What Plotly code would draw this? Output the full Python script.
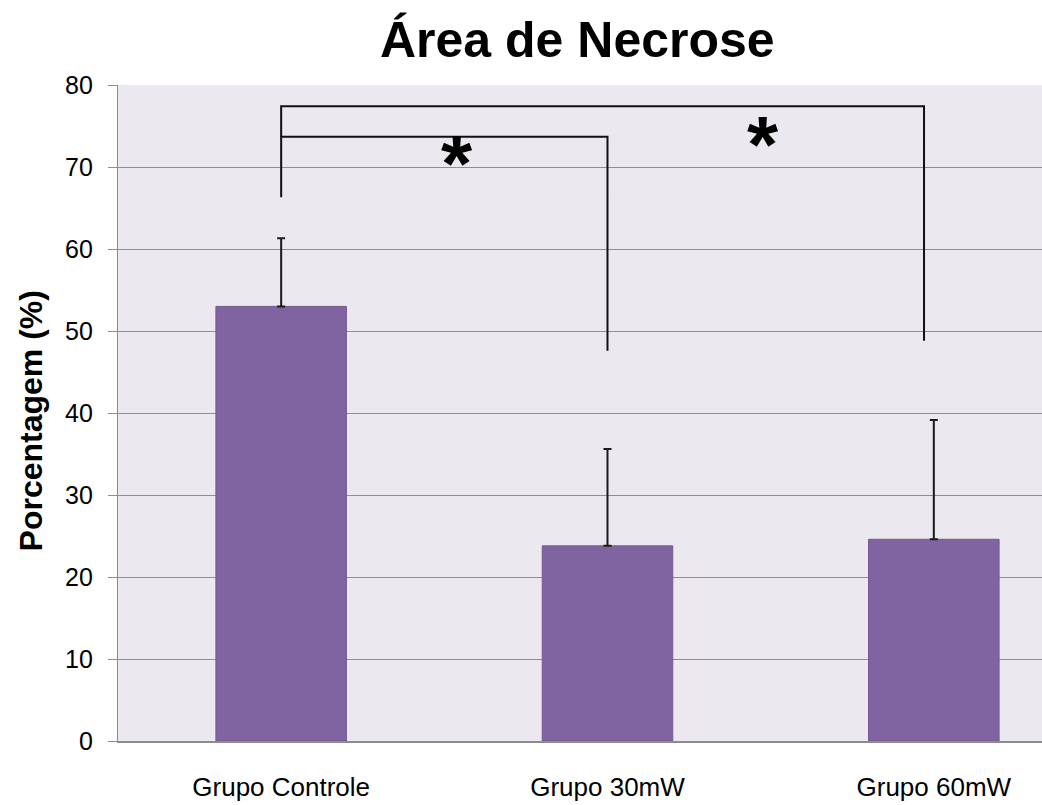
import plotly.graph_objects as go

# Necrosis area per group (mean and upper standard deviation)
groups = ["Grupo Controle", "Grupo 30mW", "Grupo 60mW"]
means = [53.0, 23.8, 24.6]
sd_plus = [8.3, 11.8, 14.55]

# Significance brackets: x positions (category index) and heights (%)
bracket1_x = [0, 0, 1.0, 1.0]
bracket1_y = [66.3, 73.7, 73.7, 47.6]
bracket2_x = [0, 0, 1.97, 1.97]
bracket2_y = [73.7, 77.4, 77.4, 48.8]

# Asterisk markers for significance
star_x = [0.54, 1.475]
star_y = [70.4, 72.7]
star_text = ["*", "*"]

y_ticks = [0, 10, 20, 30, 40, 50, 60, 70, 80]

FONT = "Liberation Sans, Arial, sans-serif"
BAR = "#8064A2"

fig = go.Figure()

fig.add_trace(go.Bar(
    x=list(range(len(groups))),
    y=means,
    width=0.4,
    marker=dict(color=BAR, line=dict(color="#735a93", width=1)),
    error_y=dict(type="data", array=sd_plus, arrayminus=[0] * len(sd_plus),
                 symmetric=False, color="#1a1a1a", thickness=2, width=4),
    showlegend=False,
    hoverinfo="skip",
))

for bx, by in ((bracket1_x, bracket1_y), (bracket2_x, bracket2_y)):
    fig.add_trace(go.Scatter(
        x=bx, y=by, mode="lines",
        line=dict(color="#111111", width=2),
        showlegend=False, hoverinfo="skip",
    ))

for sx, sy, st in zip(star_x, star_y, star_text):
    fig.add_annotation(
        x=sx, y=sy, xref="x", yref="y", text=f"<b>{st}</b>", showarrow=False,
        font=dict(family=FONT, size=80, color="#000000"),
        yanchor="middle", xanchor="center",
    )

# Title and y-axis label
fig.add_annotation(
    x=0.497, y=1.0686, xref="paper", yref="paper", text="<b>Área de Necrose</b>",
    showarrow=False, font=dict(family=FONT, size=50, color="#000000"),
    xanchor="center", yanchor="middle",
)
fig.add_annotation(
    x=-0.0946, y=0.488, xref="paper", yref="paper", text="<b>Porcentagem (%)</b>",
    textangle=-90, showarrow=False, font=dict(family=FONT, size=32, color="#000000"),
    xanchor="center", yanchor="middle",
)

fig.update_layout(
    width=1042, height=805,
    margin=dict(l=117.5, r=0, t=85, b=64),
    paper_bgcolor="#ffffff",
    plot_bgcolor="#EBE9EF",
    font=dict(family=FONT, color="#000000"),
    bargap=0.6,
)

fig.update_xaxes(
    range=[-0.5, 2.3315],
    tickmode="array", tickvals=list(range(len(groups))), ticktext=groups,
    tickfont=dict(family=FONT, size=26, color="#000000"),
    showgrid=False, zeroline=False,
    showline=True, linecolor="#8c8c8c", linewidth=1.5,
    ticks="", ticklabelstandoff=22,
)
fig.update_yaxes(
    range=[0, 80],
    tickmode="array", tickvals=y_ticks,
    tickfont=dict(family=FONT, size=25, color="#000000"),
    showgrid=True, gridcolor="#8f8f8f", gridwidth=1.2,
    zeroline=False,
    showline=True, linecolor="#8c8c8c", linewidth=1.2,
    ticks="outside", ticklen=9, tickcolor="#8c8c8c", tickwidth=1.2,
    ticklabelstandoff=10,
)

fig.write_html("out.html")
